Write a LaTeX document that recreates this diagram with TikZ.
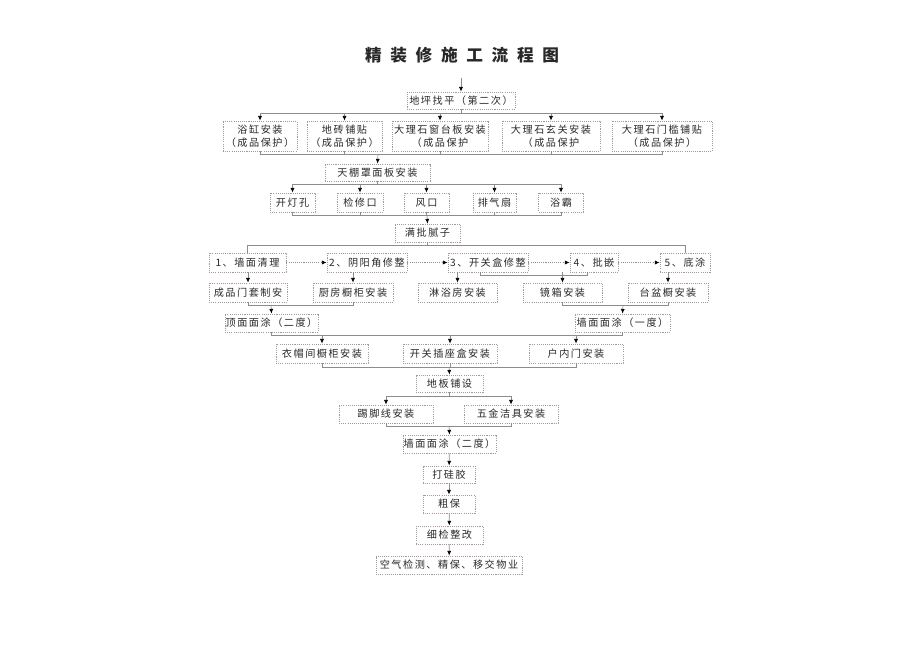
\documentclass[tikz,border=0pt]{standalone}
\usepackage{fontspec}
\setmainfont[LetterSpace=15]{Noto Sans CJK SC}
\usetikzlibrary{arrows.meta,calc}
\definecolor{boxline}{RGB}{165,150,160}
\definecolor{wire}{RGB}{140,140,140}
\definecolor{ink}{RGB}{40,40,40}
\newcommand\tsp{\hspace{6.5pt}}
\tikzset{
  box/.style={draw=boxline,line width=.6pt,dash pattern=on .8pt off .8pt,text=ink,
    font=\fontsize{7.6}{9.5}\selectfont,inner sep=0pt,align=center},
  sz/.style 2 args={minimum width=#1*0.75pt,minimum height=#2*0.75pt},
  wire/.style={draw=wire,line width=.5pt},
  arr/.style={wire,-{Latex[length=3.5pt,width=3pt,color=black]}}
}
\begin{document}
\begin{tikzpicture}[x=0.75pt,y=-0.75pt]
\useasboundingbox (0,0) rectangle (920,651);
%title
\node[text=ink,font=\fontsize{12.5}{13}\selectfont\bfseries] (title) at (462,55)
  {精\tsp 装\tsp 修\tsp 施\tsp 工\tsp 流\tsp 程\tsp 图};
\coordinate (start) at (461,78);
%boxes
\node[box,sz={108}{17}] (a0) at (461,100.5) {地坪找平（第二次）};
\foreach \n/\x/\w/\t in {r1a/260/74/{浴缸安装\\（成品保护）},r1b/344.5/75/{地砖铺贴\\（成品保护）},
  r1c/440/96/{大理石窗台板安装\\（成品保护},r1d/551/98/{大理石玄关安装\\（成品保护},
  r1e/662/100/{大理石门槛铺贴\\（成品保护）}}
  \node[box,sz={\w}{30}] (\n) at (\x,136) {\t};
\node[box,sz={105}{17}] (b0) at (377.5,172.5) {天棚罩面板安装};
\foreach \n/\x/\w/\t in {l1/292.5/45/开灯孔,l2/360/46/检修口,l3/426.5/45/风口,
  l4/494.5/43/排气扇,l5/561/45/浴霸}
  \node[box,sz={\w}{19}] (\n) at (\x,202.5) {\t};
\node[box,sz={65}{18}] (m0) at (427.5,233) {满批腻子};
\foreach \n/\x/\w/\t in {s1/247.5/77/1、墙面清理,s2/367/80/2、阴阳角修整,
  s3/488/80/3、开关盒修整,s4/594/48/4、批嵌,s5/685/50/5、底涂}
  \node[box,sz={\w}{19}] (\n) at (\x,262.5) {\t};
\foreach \n/\x/\w/\t in {q1/248/78/成品门套制安,q2/353/80/厨房橱柜安装,
  q3/457.5/79/淋浴房安装,q4/562.5/79/镜箱安装,q5/668/80/台盆橱安装}
  \node[box,sz={\w}{19}] (\n) at (\x,292.5) {\t};
\node[box,sz={93}{18}] (p1) at (271.5,323) {顶面面涂（二度）};
\node[box,sz={95}{18}] (p2) at (622.5,323) {墙面面涂（一度）};
\foreach \n/\x/\w/\t in {t1/322/92/衣帽间橱柜安装,t2/450/94/开关插座盒安装,t3/576/94/户内门安装}
  \node[box,sz={\w}{19}] (\n) at (\x,353.5) {\t};
\node[box,sz={67}{17}] (f0) at (449.5,383.5) {地板铺设};
\node[box,sz={94}{18}] (g1) at (386,414) {踢脚线安装};
\node[box,sz={94}{18}] (g2) at (511,414) {五金洁具安装};
\node[box,sz={93}{18}] (w2) at (449.5,444) {墙面面涂（二度）};
\node[box,sz={52}{17}] (k1) at (449,474.5) {打硅胶};
\node[box,sz={52}{18}] (k2) at (449,504) {粗保};
\node[box,sz={67}{18}] (k3) at (449.5,535) {细检整改};
\node[box,sz={146}{18}] (k4) at (449,565) {空气检测、精保、移交物业};
%connectors
\draw[arr] (start) -- (a0);
\draw[wire] (a0.south) -- ++(0,4) coordinate (a0b);
\foreach \n in {r1a,r1b,r1c,r1d,r1e} \draw[arr] (a0b) -| (\n.north);
\coordinate (r1bar) at (378,154);
\foreach \n in {r1a,r1b,r1c,r1d,r1e} \draw[wire] (\n.south) |- (r1bar);
\draw[arr] (r1bar) -- (b0.north);
\draw[wire] (b0.south) -- ++(0,3) coordinate (b0b);
\foreach \n in {l1,l2,l3,l4,l5} \draw[arr] (b0b) -| (\n.north);
\coordinate (lbar) at (427,215);
\foreach \n in {l1,l2,l3,l4,l5} \draw[wire] (\n.south) |- (lbar);
\draw[arr] (lbar) -- (m0.north);
\draw[wire] (m0.south) -- ++(0,3) coordinate (m0b);
\draw[wire] (m0b) -| (s1.north);
\draw[wire] (m0b) -| (s5.north);
\foreach \a/\b in {s1/s2,s2/s3,s3/s4,s4/s5}
  \draw[arr,dash pattern=on .8pt off .8pt] (\a) -- (\b);
\foreach \a/\b in {s1/q1,s2/q2,s3/q3,s4/q4,s5/q5}
  \draw[arr] (\a.south -| \b.north) -- (\b.north);
\draw[wire] ([xshift=-6pt]s3.south) -- ++(0,3) -| ([xshift=-5.25pt]s4.south);
\coordinate (qL) at (271,305);
\coordinate (qR) at (623,305);
\draw[wire] (q1.south) |- (qL) (q2.south) |- (qL);
\draw[wire] (q4.south) |- (qR) (q5.south) |- (qR);
\draw[arr] (qL) -- (p1.north);
\draw[arr] (qR) -- (p2.north);
\coordinate (pbar) at (449,335);
\draw[wire] (p1.south) |- (pbar) (p2.south) |- (pbar);
\foreach \n in {t1,t2,t3} \draw[arr] (pbar) -| (\n.north);
\coordinate (tbar) at (449,367);
\foreach \n in {t1,t2,t3} \draw[wire] (\n.south) |- (tbar);
\draw[arr] (tbar) -- (f0.north);
\draw[wire] (f0.south) -- ++(0,4) coordinate (f0b);
\draw[arr] (f0b) -| (g1.north);
\draw[arr] (f0b) -| (g2.north);
\coordinate (gbar) at (449,426);
\draw[wire] (g1.south) |- (gbar) (g2.south) |- (gbar);
\draw[arr] (gbar) -- (w2.north);
\foreach \a/\b in {w2/k1,k1/k2,k2/k3,k3/k4} \draw[arr] (\a) -- (\b);
\end{tikzpicture}
\end{document}
